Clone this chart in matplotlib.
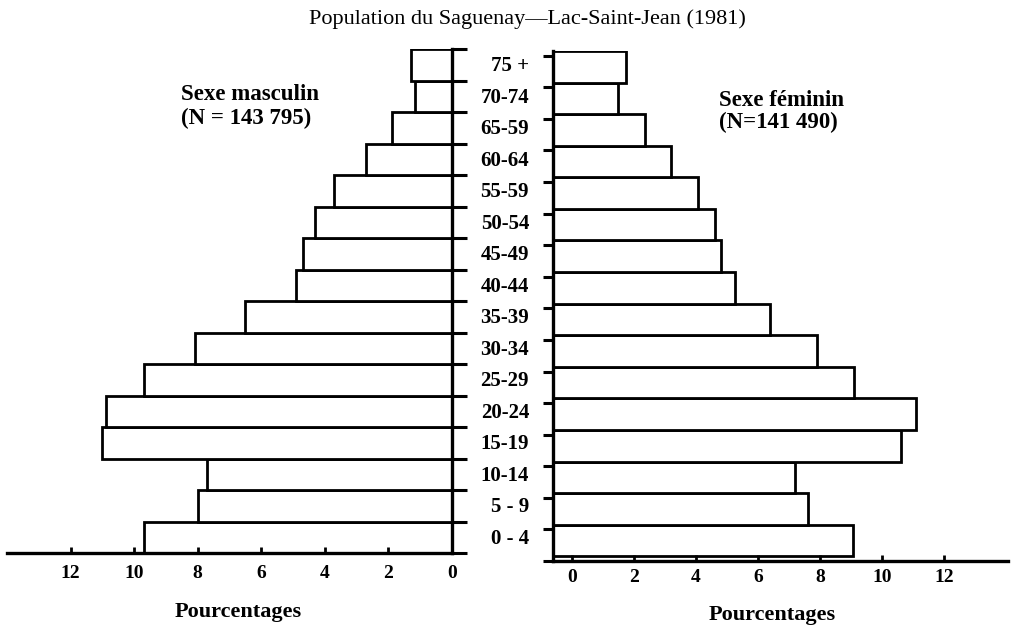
import numpy as np
import matplotlib
matplotlib.use("Agg")
import matplotlib.pyplot as plt
from matplotlib.transforms import blended_transform_factory

groupes = ["0 - 4", "5 - 9", "10-14", "15-19", "20-24", "25-29", "30-34", "35-39",
           "40-44", "45-49", "50-54", "55-59", "60-64", "65-59", "70-74", "75 +"]
hommes = [9.7, 8.0, 7.7, 11.0, 10.9, 9.7, 8.1, 6.5, 4.9, 4.7, 4.3, 3.7, 2.7, 1.9, 1.15, 1.3]
femmes = [9.05, 7.6, 7.2, 10.6, 11.1, 9.1, 7.9, 6.4, 5.25, 4.8, 4.6, 4.05, 3.2, 2.35, 1.5, 1.75]
graduations = [0, 2, 4, 6, 8, 10, 12]

W, H = 1017, 631
plt.rcParams['font.family'] = ['Liberation Serif', 'DejaVu Serif']

def boite(x0, x1, yhaut, ybas):
    return [x0 / W, 1 - ybas / H, (x1 - x0) / W, (ybas - yhaut) / H]

fig = plt.figure(figsize=(W / 100, H / 100), dpi=100)
fig.patch.set_facecolor('white')

lw = 2.0
y = np.arange(len(groupes))

# --- côté masculin ---
axL = fig.add_axes(boite(7, 452, 49, 553))
axL.set_xlim(14.0, 0)
axL.set_ylim(0, len(groupes))
axL.barh(y, hommes, height=1.0, align='edge', color='white', edgecolor='black', linewidth=lw)
for s in ['top', 'left']:
    axL.spines[s].set_visible(False)
for s in ['right', 'bottom']:
    axL.spines[s].set_linewidth(2.4)
axL.yaxis.tick_right()
axL.set_yticks(range(len(groupes) + 1))
axL.set_yticklabels([])
axL.tick_params(axis='y', direction='out', length=11, width=2.2)
axL.set_xticks(graduations)
axL.set_xticklabels([str(g) for g in graduations], fontsize=14, fontweight='bold')
axL.tick_params(axis='x', direction='in', length=4, width=2, pad=9)

# --- côté féminin ---
origine_f = -0.61
axR = fig.add_axes(boite(553, 1008, 51, 561))
axR.set_xlim(origine_f, 14.06)
axR.set_ylim(0, len(groupes))
axR.barh(y, np.array(femmes) - origine_f, left=origine_f, height=1.0, align='edge',
         color='white', edgecolor='black', linewidth=lw)
for s in ['top', 'right']:
    axR.spines[s].set_visible(False)
for s in ['left', 'bottom']:
    axR.spines[s].set_linewidth(2.4)
axR.yaxis.tick_left()
axR.set_yticks(np.arange(len(groupes) + 1) - 0.15)
axR.set_yticklabels([])
axR.tick_params(axis='y', direction='out', length=7, width=2.2)
axR.set_xticks(graduations)
axR.set_xticklabels([str(g) for g in graduations], fontsize=14, fontweight='bold')
axR.tick_params(axis='x', direction='in', length=4, width=2, pad=6)

# --- étiquettes des groupes d'âge ---
trans = blended_transform_factory(fig.transFigure, axL.transData)
for i, g in enumerate(groupes):
    fig.text(529 / W, i + 0.45, g, transform=trans, ha='right', va='center',
             fontsize=15, fontweight='bold')

# --- textes ---
fig.text(527 / W, 1 - 19 / H, "Population du Saguenay\u2014Lac-Saint-Jean (1981)",
         ha='center', va='center', fontsize=16)
fig.text(181 / W, 1 - 95 / H, "Sexe masculin", ha='left', va='center', fontsize=16.5, fontweight='bold')
fig.text(181 / W, 1 - 118 / H, "(N = 143 795)", ha='left', va='center', fontsize=16.5, fontweight='bold')
fig.text(719 / W, 1 - 101 / H, "Sexe féminin", ha='left', va='center', fontsize=16.5, fontweight='bold')
fig.text(719 / W, 1 - 122 / H, "(N=141 490)", ha='left', va='center', fontsize=16.5, fontweight='bold')
fig.text(238 / W, 1 - 612 / H, "Pourcentages", ha='center', va='center', fontsize=16, fontweight='bold')
fig.text(772 / W, 1 - 615 / H, "Pourcentages", ha='center', va='center', fontsize=16, fontweight='bold')

fig.savefig("out.png", dpi=100, facecolor='white')
